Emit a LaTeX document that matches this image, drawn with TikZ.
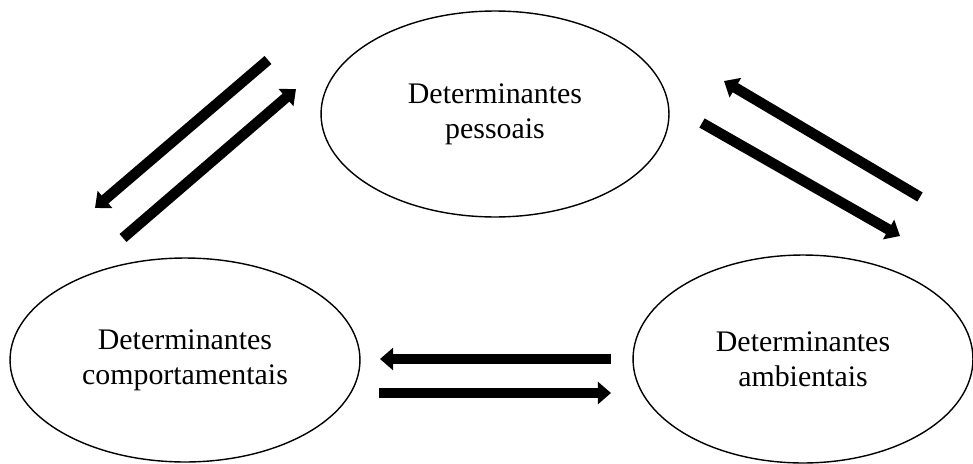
\documentclass[tikz,border=0pt]{standalone}
\usepackage{fontspec}
\setmainfont{Liberation Serif}
\usetikzlibrary{shapes.geometric,arrows.meta}
\begin{document}
\begin{tikzpicture}[x=0.02cm,y=-0.02cm,
  determinant/.style={draw=black, line width=0.8pt, ellipse, inner sep=0pt,
    align=center, font=\fontsize{17}{20}\selectfont},
  thickarrow/.style={line width=6pt, line cap=butt,
    -{Triangle[width=12.5pt,length=7.5pt]}}]
  \useasboundingbox (0,0) rectangle (973,463);

  % the three determinants
  \node[determinant, minimum width=6.96cm, minimum height=4.12cm] (pes) at (495,114)
    {Determinantes\\pessoais};
  \node[determinant, minimum width=7.0cm, minimum height=4.08cm] (com) at (185,360)
    {Determinantes\\comportamentais};
  \node[determinant, minimum width=6.8cm, minimum height=4.16cm] (amb) at (803,359)
    {Determinantes\\ambientais};

  % end points of the paired arrows
  \coordinate (pc1) at (268,60);   \coordinate (pc2) at (95,208);
  \coordinate (cp1) at (123,238);  \coordinate (cp2) at (296,89);
  \coordinate (ap1) at (920,197);  \coordinate (ap2) at (724,81);
  \coordinate (pa1) at (702,123);  \coordinate (pa2) at (900,236);
  \coordinate (ac1) at (611,359);  \coordinate (ac2) at (380,359);
  \coordinate (ca1) at (379,393);  \coordinate (ca2) at (611,393);

  % reciprocal influences
  \draw[thickarrow] (pc1) -- (pc2);
  \draw[thickarrow] (cp1) -- (cp2);
  \draw[thickarrow] (ap1) -- (ap2);
  \draw[thickarrow] (pa1) -- (pa2);
  \draw[thickarrow] (ac1) -- (ac2);
  \draw[thickarrow] (ca1) -- (ca2);
\end{tikzpicture}
\end{document}
